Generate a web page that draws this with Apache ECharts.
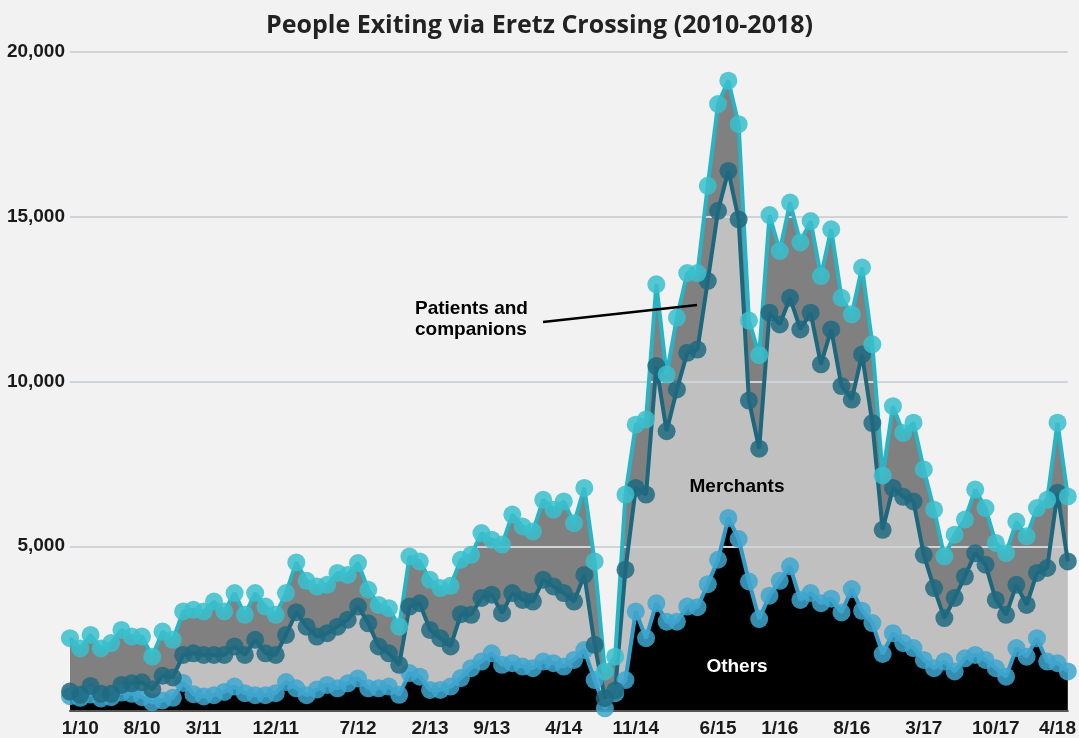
<!DOCTYPE html>
<html>
<head>
<meta charset="utf-8">
<title>People Exiting via Eretz Crossing</title>
<script src="https://cdn.jsdelivr.net/npm/echarts@6/dist/echarts.min.js"></script>
<style>
    html, body { margin: 0; padding: 0; background: #f2f2f2; }
    #chart { width: 1079px; height: 738px; }
</style>
</head>
<body>
<div id="chart"></div>
<script>
// monthly exits, stacked from the bottom up
var others = [450, 400, 500, 380, 420, 560, 520, 420, 260, 320,
    400, 850, 510, 440, 480, 580, 740, 540, 480, 480,
    540, 880, 690, 480, 650, 790, 690, 840, 990, 690,
    690, 740, 490, 1150, 1040, 640, 640, 740, 1000, 1300,
    1500, 1750, 1400, 1450, 1350, 1300, 1500, 1450, 1350, 1550,
    1850, 940, 80, 540, 940, 3020, 2210, 3270, 2710, 2710,
    3170, 3150, 3850, 4590, 5860, 5220, 3930, 2790, 3500, 3950,
    4390, 3370, 3580, 3270, 3410, 2990, 3700, 3040, 2670, 1730,
    2360, 2060, 1910, 1550, 1300, 1500, 1200, 1600, 1700, 1550,
    1300, 1040, 1910, 1650, 2210, 1500, 1450, 1200];
var merchants = [140, 90, 260, 140, 100, 230, 320, 450, 400, 750,
    620, 850, 1240, 1260, 1220, 1120, 1220, 1160, 1680, 1270,
    1160, 1430, 2310, 2080, 1610, 1570, 1870, 1930, 2180, 1970,
    1270, 1010, 910, 2020, 2230, 1820, 1570, 1220, 1940, 1620,
    1930, 1780, 1570, 2130, 2020, 2020, 2480, 2330, 2230, 1770,
    2280, 1070, 310, 80, 3350, 3750, 4360, 7200, 5780, 7050,
    7700, 7820, 9200, 10590, 10530, 9700, 5490, 5170, 8590, 7780,
    8150, 8210, 8510, 7250, 8170, 6870, 5750, 7780, 6070, 3770,
    4410, 4440, 4450, 3190, 2430, 1320, 2230, 2480, 3090, 2890,
    2070, 1880, 1920, 1570, 1980, 2840, 5170, 3340];
var patients = [1620, 1410, 1550, 1380, 1540, 1670, 1420, 1390, 990, 1340,
    1140, 1320, 1320, 1320, 1620, 1320, 1620, 1220, 1420, 1420,
    1220, 1270, 1510, 1390, 1520, 1470, 1630, 1360, 1320, 1020,
    1260, 1370, 1160, 1520, 1270, 1520, 1520, 1840, 1650, 1820,
    1970, 1670, 2080, 2380, 2230, 2130, 2430, 2330, 2780, 2380,
    2640, 2530, 810, 1030, 2280, 1920, 2280, 2480, 1720, 2180,
    2420, 2320, 2890, 3240, 2740, 2890, 2430, 2840, 2960, 2230,
    2890, 2640, 2780, 2680, 3040, 2680, 2590, 2640, 2390, 1650,
    2480, 1940, 2390, 2590, 2380, 1870, 1920, 1730, 1930, 1720,
    1730, 1870, 1920, 2080, 1970, 2070, 2130, 1970];

// x tick labels and the point each one sits under
var tickLabels = ['1/10', '8/10', '3/11', '12/11', '7/12', '2/13', '9/13', '4/14',
    '11/14', '6/15', '1/16', '8/16', '3/17', '10/17', '4/18'];
var tickAt = [1, 7, 13, 20, 28, 35, 41, 48, 55, 63, 69, 76, 83, 90, 96];

var categories = others.map(function (v, i) { return String(i); });
var labelOf = {};
tickAt.forEach(function (p, k) { labelOf[p] = tickLabels[k]; });

var FONT = '"Liberation Sans", Arial, sans-serif';

// filled bands (drawn under the gridlines)
function band(name, data, color) {
    return {
        name: name, type: 'line', stack: 'band', data: data,
        symbol: 'none', silent: true, z: 1,
        lineStyle: { width: 0 },
        areaStyle: { color: color, opacity: 1 }
    };
}
// lines with big round markers (drawn on top)
function trace(name, data, lineColor, dotColor) {
    return {
        name: name, type: 'line', stack: 'trace', data: data,
        symbol: 'circle', symbolSize: 18, showAllSymbol: true, z: 3,
        lineStyle: { width: 4, color: lineColor },
        itemStyle: { color: dotColor }
    };
}

var chart = echarts.init(document.getElementById('chart'));
chart.setOption({
    backgroundColor: '#f2f2f2',
    animation: false,
    title: {
        text: 'People Exiting via Eretz Crossing (2010-2018)',
        left: 'center',
        top: 8,
        textStyle: { fontFamily: '"Open Sans", sans-serif', fontWeight: 'bold', fontSize: 25, color: '#222' }
    },
    grid: { left: 70, right: 7, top: 52, bottom: 27 },
    xAxis: {
        type: 'category',
        boundaryGap: false,
        data: categories,
        z: 2,
        axisTick: { show: false },
        axisLine: { lineStyle: { color: '#555', width: 2 } },
        axisLabel: {
            interval: 0,
            margin: 8,
            formatter: function (v, i) { return labelOf[i] || ''; },
            fontFamily: FONT, fontWeight: 'bold', fontSize: 19, color: '#1a1a1a'
        }
    },
    yAxis: {
        type: 'value',
        min: 0,
        max: 20000,
        interval: 5000,
        z: 2,
        axisLine: { show: false },
        axisTick: { show: false },
        axisLabel: {
            margin: 5,
            showMinLabel: false,
            formatter: function (v) { return v.toLocaleString('en-US'); },
            fontFamily: FONT, fontWeight: 'bold', fontSize: 19, color: '#1a1a1a'
        },
        splitLine: { lineStyle: { color: '#cdd5d8', width: 2 } }
    },
    series: [
        band('Others', others, '#000000'),
        band('Merchants', merchants, '#c0c0c0'),
        band('Patients and companions', patients, '#808080'),
        trace('Others', others, '#2e9cc6', 'rgba(62,166,206,0.85)'),
        trace('Merchants', merchants, '#1a677e', 'rgba(32,106,128,0.85)'),
        trace('Patients and companions', patients, '#27b5c5', 'rgba(58,191,204,0.85)')
    ],
    graphic: [
        {
            type: 'text', left: 415, top: 298, z: 10,
            style: { text: 'Patients and\ncompanions', font: 'bold 19px ' + FONT, fill: '#000', lineHeight: 21 }
        },
        {
            type: 'line', z: 10,
            shape: { x1: 543, y1: 322, x2: 697, y2: 305 },
            style: { stroke: '#000', lineWidth: 2.5 }
        },
        {
            type: 'text', z: 10,
            style: { text: 'Merchants', x: 737, y: 487, align: 'center', verticalAlign: 'middle', font: 'bold 19px ' + FONT, fill: '#000' }
        },
        {
            type: 'text', z: 10,
            style: { text: 'Others', x: 737, y: 667, align: 'center', verticalAlign: 'middle', font: 'bold 19px ' + FONT, fill: '#fff' }
        }
    ]
});
</script>
</body>
</html>
